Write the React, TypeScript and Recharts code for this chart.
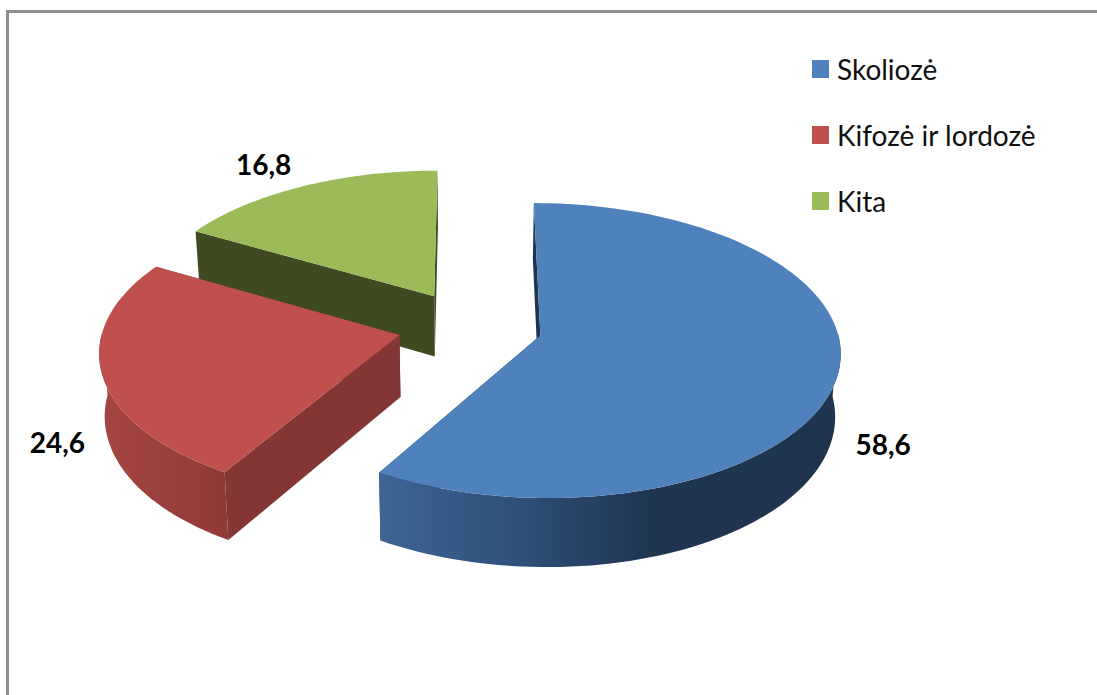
import { Legend, Pie, PieChart } from "recharts";

const categories = ["Skoliozė", "Kifozė ir lordozė", "Kita"];
const values = [58.6, 24.6, 16.8];
const topColors = ["#4f81bd", "#c0504d", "#9bbb59"];

// flat sides of each slice
const sideColors = ["#1f344f", "#843535", "#404a22"];
// rim shading, left to right
const rimStops: [number, string][][] = [
  [[0, "#3e6593"], [0.3, "#2f5079"], [0.6, "#1f344f"], [1, "#1f344f"]],
  [[0, "#a54542"], [1, "#8f3a38"]],
  [[0, "#5f7436"], [1, "#404a22"]],
];
// label shift from the outer rim of the slice
const labelShift = [[51, 5], [-50, 5], [-39, -22]];

// painted back to front, so the pie runs counter-clockwise through the reversed list
const pieData = categories
  .map((name, i) => ({ name, value: values[i], fill: topColors[i] }))
  .reverse();

const EXPLODE = 0.245;
const TILT = 0.4865;
const PERSPECTIVE = 0.1016;
const DEPTH = 0.208;
const NARROW = 0.015;

type Pt = [number, number];

function project(cx: number, cy: number, r: number, u: number, v: number, z: number): Pt {
  const s = 1 / (1 - PERSPECTIVE * v);
  return [cx + r * u * s * (1 - NARROW * z), cy + r * TILT * v * s + r * DEPTH * z * s];
}

function toPath(points: Pt[]) {
  return "M" + points.map((p) => p[0].toFixed(2) + " " + p[1].toFixed(2)).join("L") + "Z";
}

function sliceOffset(startAngle: number, endAngle: number) {
  const mid = (((startAngle + endAngle) / 2) * Math.PI) / 180;
  return [EXPLODE * Math.cos(mid), -EXPLODE * Math.sin(mid)];
}

function Slice3D(props: any) {
  const { cx, cy, outerRadius: r, startAngle, endAngle, fill } = props;
  const idx = topColors.indexOf(fill);
  const [ou, ov] = sliceOffset(startAngle, endAngle);
  const pt = (rad: number, a: number, z: number) =>
    project(cx, cy, r, ou + rad * Math.cos(a), ov - rad * Math.sin(a), z);

  const a0 = (startAngle * Math.PI) / 180;
  const a1 = (endAngle * Math.PI) / 180;
  const n = 120;
  const angles = Array.from({ length: n + 1 }, (_, i) => a0 + ((a1 - a0) * i) / n);
  const topArc = angles.map((a) => pt(1, a, 0));
  // only the part of the rim that faces the viewer
  const front = angles.filter((a) => Math.sin(a) <= 0.02);
  const rimPath = front.length
    ? toPath([...front.map((a) => pt(1, a, 0)), ...front.map((a) => pt(1, a, 1)).reverse()])
    : "";
  const id = "rim" + idx;

  return (
    <g>
      <defs>
        <linearGradient id={id} x1="0" y1="0" x2="1" y2="0">
          {rimStops[idx].map(([o, c]) => (
            <stop key={o} offset={o} stopColor={c} />
          ))}
        </linearGradient>
      </defs>
      <path d={toPath([pt(0, a0, 0), pt(1, a0, 0), pt(1, a0, 1), pt(0, a0, 1)])} fill={sideColors[idx]} />
      <path d={toPath([pt(0, a1, 0), pt(1, a1, 0), pt(1, a1, 1), pt(0, a1, 1)])} fill={sideColors[idx]} />
      {rimPath && <path d={rimPath} fill={`url(#${id})`} />}
      <path d={toPath([pt(0, a0, 0), ...topArc])} fill={fill} />
    </g>
  );
}

function SliceLabel(props: any) {
  const { cx, cy, outerRadius: r, midAngle, value, fill } = props;
  const idx = topColors.indexOf(fill);
  const [ou, ov] = sliceOffset(midAngle, midAngle);
  const a = (midAngle * Math.PI) / 180;
  const z = idx === 2 ? 0 : 1;
  const [x, y] = project(cx, cy, r, ou + Math.cos(a), ov - Math.sin(a), z);
  return (
    <text
      x={x + labelShift[idx][0]}
      y={y + labelShift[idx][1]}
      textAnchor="middle"
      dominantBaseline="central"
      fontFamily="Lato"
      fontWeight={700}
      fontSize={28}
      fill="#000"
    >
      {String(value).replace(".", ",")}
    </text>
  );
}

function LegendList({ payload }: any) {
  const items = [...(payload || [])].sort(
    (a: any, b: any) => categories.indexOf(a.value) - categories.indexOf(b.value)
  );
  return (
    <div style={{ fontFamily: "Lato", fontSize: 28, color: "#111" }}>
      {items.map((item: any) => (
        <div key={item.value} style={{ display: "flex", alignItems: "center", height: 66 }}>
          <span style={{ width: 17, height: 18, background: item.color, marginRight: 8 }} />
          <span style={{ whiteSpace: "nowrap" }}>{item.value}</span>
        </div>
      ))}
    </div>
  );
}

export default function App() {
  return (
    <div style={{ position: "absolute", left: 0, top: 0, width: 1097, height: 695, background: "#fff", overflow: "hidden" }}>
      <div
        style={{
          position: "absolute",
          left: 6,
          top: 10,
          width: 1200,
          height: 800,
          borderLeft: "3px solid #8e8e8e",
          borderTop: "3px solid #8e8e8e",
        }}
      />
      <div style={{ position: "absolute", left: 0, top: 0 }}>
        <PieChart width={1097} height={695} margin={{ top: 0, right: 0, bottom: 0, left: 0 }}>
          <Pie
            data={pieData}
            dataKey="value"
            nameKey="name"
            cx={470}
            cy={326}
            outerRadius={296}
            startAngle={90}
            endAngle={450}
            stroke="none"
            isAnimationActive={false}
            shape={Slice3D}
            label={SliceLabel}
            labelLine={false}
          />
          <Legend
            layout="vertical"
            content={LegendList}
            wrapperStyle={{ position: "absolute", left: 812, top: 36, width: 280 }}
          />
        </PieChart>
      </div>
    </div>
  );
}
